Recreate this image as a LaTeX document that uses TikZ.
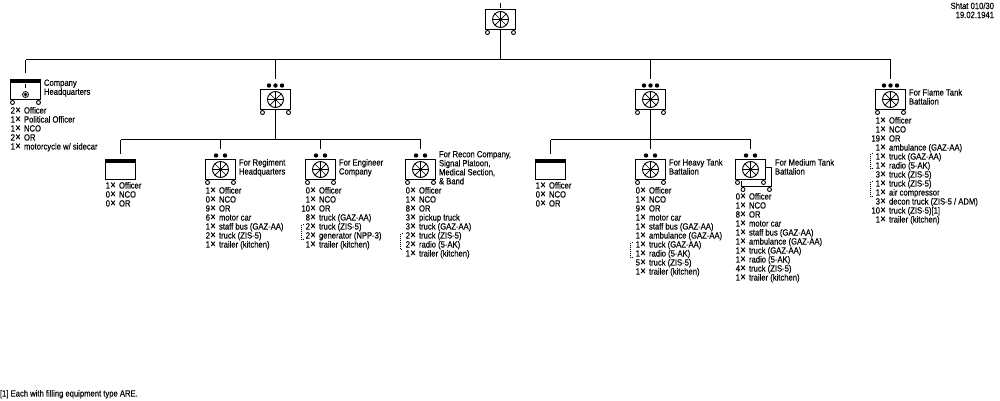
\documentclass[tikz,border=0pt]{standalone}
\usepackage{fontspec}
\setmainfont[FakeStretch=0.85,FakeBold=0.25]{Liberation Sans}
\newcommand\cnt[2]{\hbox to 10pt{\hss #1}\hbox to 9pt{\hspace{0.3pt}{\fontsize{11}{9}\selectfont ×}\hss}#2}
\newcommand\wheelpair[1]{\draw[wheel] ([xshift=2pt,yshift=-3pt]#1.south west) circle (2);
  \draw[wheel] ([xshift=-2pt,yshift=-3pt]#1.south east) circle (2);}
\newcommand\twodots[1]{\fill ([xshift=-4.5pt,yshift=4pt]#1.north) circle (2.2) ([xshift=4.5pt,yshift=4pt]#1.north) circle (2.2);}
\newcommand\threedots[1]{\fill ([xshift=-6.5pt,yshift=4pt]#1.north) circle (2.2) ([yshift=4pt]#1.north) circle (2.2) ([xshift=6.5pt,yshift=4pt]#1.north) circle (2.2);}
\newcommand\dotbracket[3]{\draw[dotline] (#1+2,#2) -- (#1,#2) -- (#1,#3) -- (#1+2,#3);}
\tikzset{
  conn/.style={line width=1pt},
  wheel/.style={line width=.9pt,fill=white},
  dotline/.style={line width=1pt,dash pattern=on 1pt off 1pt},
  fanbox/.style={draw,line width=1pt,rectangle,minimum width=30pt,minimum height=20pt,inner sep=0pt,outer sep=0pt,
    path picture={\begin{scope}[shift={(path picture bounding box.center)}]
      \draw[line width=.9pt] (0,0) circle (8);
      \foreach \a in {0,45,...,315}{\draw[line width=.7pt] (0,0) -- (\a:8);}
      \fill (0,0) circle (1.5);
    \end{scope}}},
  plainbox/.style={draw,line width=1pt,rectangle,minimum width=30pt,minimum height=20pt,inner sep=0pt,outer sep=0pt,
    path picture={\fill (path picture bounding box.north west) rectangle ([yshift=-3.5pt]path picture bounding box.north east);}},
  txt/.style={font=\fontsize{9}{9}\selectfont,inner sep=0pt,outer sep=0pt,align=left,text depth=0pt},
  lbl/.style={txt,anchor=north west},
}
\begin{document}
\begin{tikzpicture}[x=1pt,y=-1pt]
\useasboundingbox (0,0) rectangle (1000,400);
\fill[white] (0,0) rectangle (1000,400);
% command
\coordinate (tick) at (500.5,3);
\coordinate (tickb) at (500.5,8);
\node[fanbox] (top) at (500.5,19.5) {};
\coordinate (bus) at (500.5,59.5);
\draw[conn] (tick) -- (tickb);
\draw[conn] (top) -- (bus);
\wheelpair{top}
% top bus
\coordinate (busL) at (25.5,59.5);
\coordinate (busR) at (890.5,59.5);
\draw[conn] (busL) -- (busR);
% HQ
\node[plainbox] (hq) at (25.5,89.5) {};
\coordinate (hqtop) at (25.5,73);
\draw[conn] (busL) -- (hqtop);
\draw[conn] (25.5,84) -- (25.5,88);
\draw[line width=.8pt] (25.5,94.5) circle (3);
\fill (25.5,94.5) circle (1.8);
\wheelpair{hq}
% battalion A
\node[fanbox] (a) at (275.5,99.5) {};
\coordinate (atop) at (275.5,79);
\draw[conn] (275.5,59.5) -- (atop);
\threedots{a}
\wheelpair{a}
\coordinate (abus) at (275.5,139.5);
\draw[conn] (a) -- (abus);
\coordinate (a1t) at (120.5,139.5);
\coordinate (a4t) at (420.5,139.5);
\draw[conn] (a1t) -- (a4t);
% battalion B
\node[fanbox] (b) at (650.5,99.5) {};
\coordinate (btop) at (650.5,79);
\draw[conn] (650.5,59.5) -- (btop);
\threedots{b}
\wheelpair{b}
\coordinate (bbus) at (650.5,139.5);
\draw[conn] (b) -- (bbus);
\coordinate (b1t) at (550.5,139.5);
\coordinate (b3t) at (750.5,139.5);
\draw[conn] (b1t) -- (b3t);
% flame
\node[fanbox] (f) at (890.5,99.5) {};
\coordinate (ftop) at (890.5,79);
\draw[conn] (busR) -- (ftop);
\threedots{f}
\wheelpair{f}
% second row
\node[plainbox] (a1) at (120.5,169.5) {};
\draw[conn] (a1t) -- (120.5,154);
\node[fanbox] (a2) at (220.5,169.5) {};
\draw[conn] (220.5,139.5) -- (220.5,149);
\twodots{a2}\wheelpair{a2}
\node[fanbox] (a3) at (320.5,169.5) {};
\draw[conn] (320.5,139.5) -- (320.5,149);
\twodots{a3}\wheelpair{a3}
\node[fanbox] (a4) at (420.5,169.5) {};
\draw[conn] (a4t) -- (420.5,149);
\twodots{a4}\wheelpair{a4}
\node[plainbox] (b1) at (550.5,169.5) {};
\draw[conn] (b1t) -- (550.5,154);
\node[fanbox] (b2) at (650.5,169.5) {};
\draw[conn] (650.5,139.5) -- (650.5,149);
\twodots{b2}\wheelpair{b2}
% medium: rear box then front box
\draw[line width=1pt] (765.5,167.5) -- (771.5,167.5) -- (771.5,186.5) -- (741.5,186.5) -- (741.5,181);
\draw[wheel] (743,189.5) circle (2);
\draw[wheel] (769.5,189.5) circle (2);
\node[fanbox] (b3) at (750.5,169.5) {};
\draw[conn] (b3t) -- (750.5,149);
\twodots{b3}\wheelpair{b3}
% labels
\node[lbl] (t1) at (994,2.5) [anchor=north east,align=right] {Shtat 010/30\\19.02.1941};
\node[lbl] (hql) at (44,79.5) {Company\\Headquarters};
\node[lbl] (hqr) at (5,107) {\cnt{2}{Officer}\\\cnt{1}{Political Officer}\\\cnt{1}{NCO}\\\cnt{2}{OR}\\\cnt{1}{motorcycle w/ sidecar}};
\node[lbl] (a1r) at (100,182) {\cnt{1}{Officer}\\\cnt{0}{NCO}\\\cnt{0}{OR}};
\node[lbl] (a2l) at (239,159) {For Regiment\\Headquarters};
\node[lbl] (a2r) at (200,187) {\cnt{1}{Officer}\\\cnt{0}{NCO}\\\cnt{9}{OR}\\\cnt{6}{motor car}\\\cnt{1}{staff bus (GAZ-AA)}\\\cnt{2}{truck (ZIS-5)}\\\cnt{1}{trailer (kitchen)}};
\node[lbl] (a3l) at (339,159) {For Engineer\\Company};
\node[lbl] (a3r) at (300,187) {\cnt{0}{Officer}\\\cnt{1}{NCO}\\\cnt{10}{OR}\\\cnt{8}{truck (GAZ-AA)}\\\cnt{2}{truck (ZIS-5)}\\\cnt{2}{generator (NPP-3)}\\\cnt{1}{trailer (kitchen)}};
\dotbracket{301.5}{224.5}{239.5}
\node[lbl] (a4l) at (439,151) {For Recon Company,\\Signal Platoon,\\Medical Section,\\\& Band};
\node[lbl] (a4r) at (400,187) {\cnt{0}{Officer}\\\cnt{1}{NCO}\\\cnt{8}{OR}\\\cnt{3}{pickup truck}\\\cnt{3}{truck (GAZ-AA)}\\\cnt{2}{truck (ZIS-5)}\\\cnt{2}{radio (5-AK)}\\\cnt{1}{trailer (kitchen)}};
\dotbracket{400.5}{233.5}{249.5}
\node[lbl] (b1r) at (530,182) {\cnt{1}{Officer}\\\cnt{0}{NCO}\\\cnt{0}{OR}};
\node[lbl] (b2l) at (669,159) {For Heavy Tank\\Battalion};
\node[lbl] (b2r) at (630,187) {\cnt{0}{Officer}\\\cnt{1}{NCO}\\\cnt{9}{OR}\\\cnt{1}{motor car}\\\cnt{1}{staff bus (GAZ-AA)}\\\cnt{1}{ambulance (GAZ-AA)}\\\cnt{1}{truck (GAZ-AA)}\\\cnt{1}{radio (5-AK)}\\\cnt{5}{truck (ZIS-5)}\\\cnt{1}{trailer (kitchen)}};
\dotbracket{630.5}{242.5}{257.5}
\node[lbl] (b3l) at (775,159) {For Medium Tank\\Battalion};
\node[lbl] (b3r) at (730,193) {\cnt{0}{Officer}\\\cnt{1}{NCO}\\\cnt{8}{OR}\\\cnt{1}{motor car}\\\cnt{1}{staff bus (GAZ-AA)}\\\cnt{1}{ambulance (GAZ-AA)}\\\cnt{1}{truck (GAZ-AA)}\\\cnt{1}{radio (5-AK)}\\\cnt{4}{truck (ZIS-5)}\\\cnt{1}{trailer (kitchen)}};
\node[lbl] (fl) at (909,89) {For Flame Tank\\Battalion};
\node[lbl] (fr) at (870,117) {\cnt{1}{Officer}\\\cnt{1}{NCO}\\\cnt{19}{OR}\\\cnt{1}{ambulance (GAZ-AA)}\\\cnt{1}{truck (GAZ-AA)}\\\cnt{1}{radio (5-AK)}\\\cnt{3}{truck (ZIS-5)}\\\cnt{1}{truck (ZIS-5)}\\\cnt{1}{air compressor}\\\cnt{3}{decon truck (ZIS-5 / ADM)}\\\cnt{10}{truck (ZIS-5)[1]}\\\cnt{1}{trailer (kitchen)}};
\dotbracket{870.5}{153.5}{168.5}
\dotbracket{870.5}{181.5}{196.5}
\node[lbl] (foot) at (0,390) {[1] Each with filling equipment type ARE.};
\end{tikzpicture}
\end{document}
